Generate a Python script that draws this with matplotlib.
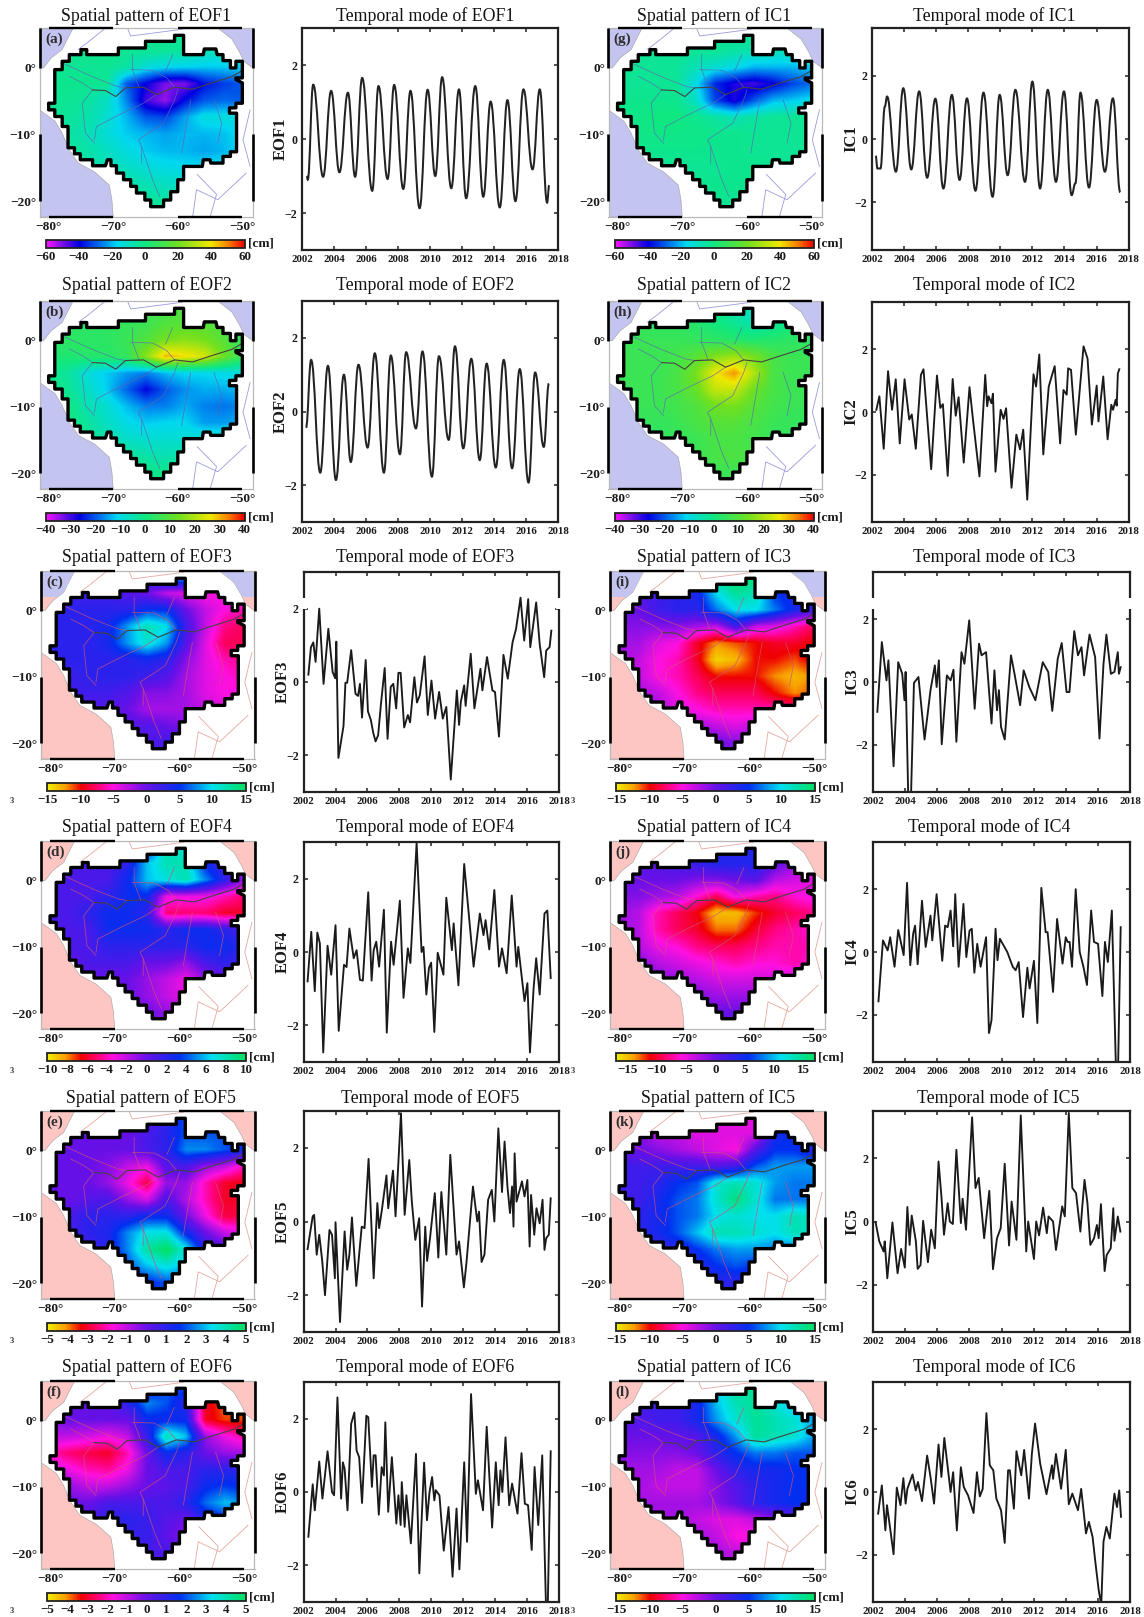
import numpy as np
import matplotlib
matplotlib.use('Agg')
import matplotlib.pyplot as plt
from matplotlib.colors import LinearSegmentedColormap, Normalize
from matplotlib.patches import Polygon, PathPatch, Rectangle
from matplotlib.path import Path
from matplotlib.cm import ScalarMappable

plt.rcParams['font.family'] = ['Liberation Serif', 'DejaVu Serif']
W, H = 1144, 1617

# ---------- grid of the spatial patterns ----------
LONS = [-80, -77, -74, -71, -68, -65, -62, -59, -56, -53, -50]
LATS = [5, 2.5, 0, -2.5, -5, -7.5, -10, -12.5, -15, -17.5, -20]

M_EOF1 = [[-2,-2,-2,-2,-2,-2,-3,-3,-3,-3,-3],
          [-2,-2,-2,-2,-3,-3,-3,-5,-8,-8,-8],
          [-3,-3,-3,-3,-5,-13,-16,-17,-18,-18,-17],
          [-2,-2,-2,-3,-30,-40,-50,-50,-38,-33,-30],
          [-3,-3,-5,-10,-25,-45,-52,-38,-30,-28,-30],
          [-3,-4,-6,-12,-20,-30,-32,-22,-14,-14,-14],
          [-3,-5,-8,-13,-18,-20,-22,-20,-20,-19,-15],
          [-3,-4,-6,-10,-14,-18,-20,-20,-22,-20,-16],
          [-2,-3,-5,-8,-10,-13,-15,-16,-16,-15,-12],
          [-2,-3,-4,-5,-6,-8,-10,-10,-8,-6,-5],
          [-2,-2,-2,-3,-3,-4,-5,-5,-4,-3,-3]]
M_EOF2 = [[5,5,5,5,6,7,8,9,8,6,4],
          [4,4,4,4,5,6,9,10,10,8,5],
          [4,4,4,4,6,9,14,16,14,10,5],
          [2,2,3,3,5,16,30,27,24,13,5],
          [-1,-3,-9,-12,-15,-17,-13,-11,-11,-10,-9],
          [0,-2,-7,-12,-19,-26,-20,-16,-14,-14,-13],
          [0,0,-5,-8,-13,-17,-17,-14,-17,-18,-16],
          [0,0,-3,-7,-10,-12,-11,-11,-15,-15,-14],
          [0,0,-1,-4,-7,-8,-8,-8,-7,-7,-6],
          [0,0,0,-1,-2,-4,-5,-4,-3,-2,-2],
          [0,0,0,0,0,-1,-1,-1,-1,0,0]]
M_EOF3 = [[2,2,2,2,2,3,8,10,3,-3,-5],
          [2,2,2,2,1,0,-3,-4,-5,-5,-5],
          [3,3,3,3,3,5,5,0,-3,-5,-6],
          [3,3,3,4,8,12,10,2,-3,-7,-8],
          [3,3,3,4,8,11,8,1,-4,-8,-8],
          [3,3,3,3,3,4,3,-1,-4,-6,-7],
          [2,2,3,3,3,2,1,-2,-4,-5,-6],
          [1,2,2,2,1,-1,-1,-2,-4,-5,-5],
          [1,1,1,1,0,-2,-2,-2,-3,-4,-4],
          [1,1,1,1,1,1,0,-1,-1,-1,-1],
          [1,1,1,1,1,1,2,2,1,1,1]]
M_EOF4 = [[1,1,1,1,1,2,8,7,3,-1,-1],
          [1,1,1,1,2,6,8,8,3,1,-1],
          [1,1,1,1,3,6,7,8,5,2,-1],
          [1,1,1,2,3,3,-3,-3,-3,-4,-5],
          [1,1,2,3,3,2,-5,-5,-5,-6,-6],
          [1,1,1,3,3,3,2,3,3,2,1],
          [1,1,1,2,2,2,2,2,3,3,2],
          [0,0,1,1,1,0,0,-1,1,2,1],
          [0,0,0,0,0,-1,-2,-3,-1,0,0],
          [0,0,0,0,0,-1,-2,-3,-1,0,0],
          [0,0,0,0,0,0,-1,-1,0,0,0]]
M_EOF5 = [[0,0,0,0,0,0,1,2,2,1,1],
          [0,0,0,0,0,0.5,1,2,2,2,1.5],
          [0,0,0,0,0,0.5,1,2.5,2.5,2,1.5],
          [0,0,0,-0.3,-1,-1.5,0.3,0.5,-0.5,-1,-2],
          [0,0,0,-0.5,-1.5,-2.8,-0.5,-0.5,-2,-3,-3.2],
          [0,0,0.3,0.5,-0.5,-1.2,0.5,-0.8,-2,-3,-3],
          [0.5,0.5,1,1,1,1.5,1.5,0,-1.5,-2.8,-2.8],
          [0.5,0.5,1,1.2,2.5,3.5,3.5,1.5,0,-1,-1.5],
          [0.5,0.5,0.5,1.2,2.5,4.2,5,3.5,1,0.5,0],
          [0.5,0.5,0.5,0.5,2,3,3.5,3,1,0.5,0.5],
          [0.5,0.5,0.5,0.5,1,1.5,2,2,1,0.5,0.5]]
M_EOF6 = [[0,0,0,0,0,1,2,2,-2,-3,-3],
          [0,0,0,0,1,2.5,2,1,-3,-3.8,-3.6],
          [-0.2,0,0,0,0,1.5,1.5,1.5,-3,-3.6,-3.6],
          [-1,-1,-1.2,-1.5,-1,0.8,4,3,-0.5,-1.5,-2.2],
          [-2,-2.5,-2.8,-3,-2,0,1.5,1,0,-0.5,-0.7],
          [-1,-1.5,-2,-2.2,-1.5,0,0.5,0.5,1,1,1],
          [-0.5,-0.5,-1,-1,-0.5,0,0.2,0.5,1.5,1.8,1.5],
          [0,0,0,0.5,0.5,0.5,0.5,1,2.2,3,2.5],
          [0,0,0.5,1,1,0.8,0.3,0,1,1.5,1],
          [0,0,0.5,0.5,0.8,0.8,0.2,-0.5,0,0,0],
          [0,0,0,0,0.5,0.5,0.5,0.5,0,0,0]]
M_IC1 = [[-3,-3,-3,-3,-3,-3,-3,-3,-3,-3,-3],
         [-3,-3,-3,-3,-3,-3,-5,-7,-8,-8,-8],
         [-3,-3,-3,-4,-8,-12,-15,-20,-20,-20,-18],
         [-3,-3,-3,-3,-15,-35,-42,-45,-40,-32,-28],
         [-2,-2,-2,-2,-10,-32,-42,-30,-20,-18,-15],
         [-2,-1,0,0,-2,-5,-8,-5,-3,-3,-3],
         [-2,-1,-1,-1,-1,-2,-2,-3,-3,-3,-3],
         [-2,-2,-2,-2,-2,-2,-2,-3,-3,-3,-3],
         [-3,-3,-3,-3,-3,-3,-2,-2,-3,-3,-3],
         [-3,-3,-3,-3,-3,-2,-2,-2,-3,-3,-3],
         [-3,-3,-3,-3,-3,-3,-3,-3,-3,-3,-3]]
M_IC2 = [[3,3,3,3,3,0,-5,-8,-4,2,3],
         [4,4,4,4,3,0,-2,-5,-3,1,3],
         [6,6,6,6,5,4,3,2,3,4,4],
         [6,6,6,7,10,15,18,14,8,6,6],
         [6,6,6,8,14,26,32,20,8,6,6],
         [6,6,6,8,12,22,22,13,8,6,6],
         [6,6,6,7,9,13,14,10,7,6,6],
         [5,5,5,6,8,10,10,8,6,5,5],
         [4,4,4,5,6,8,8,7,5,4,4],
         [5,5,5,5,6,8,9,7,5,5,5],
         [5,5,5,5,5,6,6,6,5,5,5]]
M_IC3 = [[3,3,3,3,3,14,15,14,3,3,3],
         [1,1,2,3,4,10,13,12,5,4,3],
         [0,0,2,3,3,7,10,10,7,4,2],
         [-1,-1,-1,-1,-2,-3,2,-3,-4,-6,-8],
         [-2,-2,-4,-5,-9,-12,-11,-10,-9,-9,-10],
         [-2,-3,-5,-6,-9,-14,-13,-10,-10,-11,-9],
         [-2,-3,-5,-6,-8,-10,-10,-10,-12,-13,-12],
         [0,-2,-3,-5,-7,-8,-8,-8,-10,-12,-11],
         [0,0,-2,-4,-5,-6,-6,-6,-6,-6,-6],
         [0,0,0,-1,-2,-3,-4,-3,-2,-1,-1],
         [1,1,1,1,1,0,-1,-1,0,0,0]]
M_IC4 = [[2,2,2,2,2,3,3,4,1,0,-1],
         [1,1,1,2,3,4,4,4,1,-2,-3],
         [0,0,0,0,-1,-1,0,1,-3,-4,-5],
         [-1,-1,-2,-3,-6,-9,-5,-7,-8,-6,-5],
         [-2,-3,-7,-9,-11,-15,-15,-12,-10,-9,-8],
         [-2,-3,-7,-9,-10,-13,-13,-10,-8,-7,-6],
         [-1,-3,-5,-6,-8,-9,-9,-8,-7,-7,-7],
         [0,-1,-3,-4,-5,-6,-7,-6,-6,-7,-6],
         [0,0,-1,-2,-3,-4,-4,-4,-4,-4,-4],
         [1,1,0,0,-1,-2,-2,-2,-2,-1,-1],
         [1,1,1,1,1,0,0,0,0,0,0]]
M_IC5 = [[-1,-1,-2,-3,-4,-4,-4,-4,4,5,5],
         [-1,-1,-3,-3,-4,-4,-4,-4,4,5,5],
         [0,0,-1,-2,-3,-4,-5,1,5,5,3],
         [2,2,2,2,2,1,2,6,8,8,8],
         [2,2,3,5,6,11,12,11,8,7,7],
         [2,2,4,6,7,11,14,11,7,7,7],
         [1,3,4,6,7,10,11,10,10,12,11],
         [1,3,4,6,9,12,12,11,10,12,11],
         [1,2,2,3,5,7,8,8,7,7,6],
         [1,2,2,2,3,5,6,5,4,3,3],
         [2,2,2,2,2,3,3,3,2,2,2]]
M_IC6 = [[2,2,2,2,3,9,13,13,8,5,4],
         [2,2,2,2,4,9,12,13,11,8,6],
         [1,1,2,2,4,8,11,13,12,11,8],
         [0,0,0,0.5,1,4,8,13,12,11,8],
         [-1,-1,-1,-1,0,3,5,7,7,6,6],
         [-2,-2,-2,-3,-3,0,3,4,4,5,5],
         [-2,-2,-3,-3,-3,-1,1,3,4,5,5],
         [-1,-2,-2,-2,-2,-1,0.5,3,4,5,4],
         [-1,-1,-2,-2,-3,-4,-4,-3,-1,0,0],
         [0,0,-1,-1,-2,-3,-5,-5,-1,0,0],
         [0,0,0,0,-1,-2,-3,-3,-1,0,0]]

# ---------- basin outline, coast, rivers (lon, lat) ----------
BASIN = [(-60.5,4.9),(-59.1,4.9),(-59.1,2),(-56.05,2),(-55.9,2.85),(-54.1,2.85),(-53.9,2),(-53,2),(-53,1.1),
         (-51.85,1.1),(-51.85,0),(-51,0),(-51,1),(-50,1),(-50,-1.5),(-51,-1.5),(-51,-1.75),(-50,-2.25),(-50,-5.3),
         (-51,-5.3),(-51,-6),(-52,-6),(-52,-6.8),(-50.9,-6.8),(-50.9,-12.6),(-51.85,-12.6),(-51.85,-13.3),(-53,-13.3),
         (-53,-14.3),(-54.9,-14.3),(-55,-13.8),(-56.05,-13.8),(-56.2,-14.8),(-59.1,-14.8),(-59.1,-16.8),(-60,-16.8),
         (-60,-18.6),(-61.1,-18.6),(-61.1,-19.85),(-62.2,-19.85),(-62.2,-20.85),(-64.2,-20.85),(-64.2,-19.85),
         (-65.1,-19.85),(-65.1,-18.8),(-66.4,-18.8),(-66.4,-17.8),(-67.3,-17.8),(-67.3,-16.8),(-68.4,-16.8),
         (-68.4,-15.8),(-69.5,-15.8),(-69.5,-14.7),(-70.35,-14.7),(-70.35,-13.8),(-70.9,-13.8),(-71.2,-14.7),
         (-73.2,-14.7),(-73.2,-13.8),(-75.1,-13.8),(-75.1,-12.9),(-76,-12.9),(-76,-12),(-77,-12),(-77,-8.8),
         (-77.9,-8.8),(-77.9,-7.3),(-79.05,-7.3),(-79.05,-6.3),(-80,-6.3),(-80,-5.3),(-79.05,-5.3),(-79.05,-0.25),
         (-77.9,-0.25),(-77.9,1),(-76.8,1),(-76.8,2),(-75,2),(-75,2.75),(-74.1,2.75),(-74.1,2),(-69.2,2),(-69.2,3),
         (-65,3),(-65,4),(-60.5,4)]
OCEAN_S = [(-81.4,-6.3),(-79,-8),(-77.9,-9.8),(-76.8,-12.3),(-75.4,-14.3),(-72.9,-15.6),(-70.6,-17.6),(-70.2,-19.8),(-70,-22.4),(-81.4,-22.4)]
OCEAN_NW = [(-81.4,6),(-76.2,6),(-77.1,4.3),(-77.9,2.75),(-79.6,1.5),(-80.8,0),(-81.4,0)]
OCEAN_NE = [(-53.8,6),(-51.6,4.3),(-50.4,2.3),(-49.8,1),(-48.4,0),(-48.4,6)]
AMAZON = [(-73.2,-3.3),(-71.2,-3.4),(-69.6,-4.3),(-68.1,-3),(-65.3,-2.9),(-63.3,-4),(-60.5,-2.9),(-57.7,-3.2),(-54.9,-2.3),(-51.6,-1.3),(-50.2,-0.5)]
RIVERS_IN = [[(-67.3,-0.25),(-63.9,-0.35),(-61.7,-1.5),(-60.5,-2.9)],
             [(-60.8,2),(-61.9,-0.5)],
             [(-77.9,0.75),(-73.4,-1.25),(-69.5,-2.75),(-68.1,-3)],
             [(-72.9,-10.8),(-72.6,-8.8),(-69,-7),(-65.3,-5.3),(-63.3,-4)],
             [(-65.6,-14.3),(-65.6,-11.8),(-66.1,-10.8),(-62.2,-8.3),(-60.5,-4.8),(-60,-3.3)],
             [(-65.6,-11.8),(-63.9,-16.8),(-62.8,-19.3)],
             [(-58,-4.8),(-58.9,-9.8),(-59.4,-12.8)],
             [(-54.4,-4.8),(-53.2,-8.3),(-53.8,-11.3)],
             [(-76.8,-1.25),(-74.8,-2.25),(-73.2,-3.3)],
             [(-73.2,-3.3),(-74.8,-5.3),(-74.3,-9.8),(-72.9,-11.3)],
             [(-67,2),(-67,-0.25),(-66,-2.9)]]
RIVERS_OUT = [[(-57.7,-22.4),(-57.1,-18.3),(-53.8,-19.8),(-51.6,-17.8),(-49.4,-15.8)],
              [(-67.8,6),(-67.3,4.8),(-63.3,5.3),(-59.4,5.8)],
              [(-71.2,6),(-74,3.8),(-75.4,2.8)],
              [(-48.8,-6.3),(-49.9,-10.8),(-48.8,-14.8)],
              [(-55,-22.4),(-54,-19),(-57,-16)]]

# ---------- temporal modes: (years after 2000, value) ----------
EOF1 = [(2.3,-1.0),(2.36,-1.1),(2.7,1.47),(3.32,-1.02),(3.82,1.3),(4.34,-0.9),(4.87,1.25),(5.32,-1.02),(5.76,1.65),(6.39,-1.4),(6.78,1.43),(7.35,-1.08),(7.76,1.46),(8.33,-1.35),(8.78,1.3),(9.35,-1.87),(9.85,1.33),(10.33,-1.0),(10.76,1.67),(11.33,-1.33),(11.81,1.34),(12.26,-1.6),(12.83,1.43),(13.33,-1.56),(13.79,1.01),(14.36,-1.85),(14.84,1.05),(15.34,-1.68),(15.84,1.34),(16.41,-0.82),(16.86,1.34),(17.32,-1.72),(17.45,-1.25)]
EOF2 = [(2.25,-0.44),(2.57,1.4),(3.14,-1.66),(3.62,1.24),(4.12,-1.86),(4.62,1.0),(5.05,-1.37),(5.53,1.27),(6.1,-0.98),(6.55,1.58),(7.12,-1.66),(7.55,1.52),(8.12,-1.16),(8.51,1.61),(9.12,-0.46),(9.53,1.63),(10.12,-1.77),(10.56,1.5),(11.17,-0.77),(11.56,1.77),(12.08,-1.0),(12.58,1.43),(13.11,-1.32),(13.54,1.3),(14.11,-1.52),(14.61,1.4),(15.13,-1.54),(15.61,1.15),(16.16,-1.93),(16.57,1.06),(17.11,-0.96),(17.43,0.76)]
EOF3 = [(2.30,0.2),(2.46,0.95),(2.61,1.08),(2.75,0.55),(2.98,2.0),(3.25,-0.05),(3.55,1.45),(3.82,0.27),(3.98,0.1),(4.05,1.1),(4.18,-2.07),(4.50,-1.2),(4.62,-0.02),(4.73,-0.02),(4.98,0.87),(5.25,-0.32),(5.41,-0.38),(5.53,-0.05),(5.66,-0.97),(5.89,0.6),(6.03,-0.8),(6.21,-1.03),(6.37,-1.4),(6.51,-1.62),(6.67,-1.45),(6.85,-0.58),(7.08,0.38),(7.26,-1.55),(7.46,-0.13),(7.62,-0.05),(7.80,-0.72),(7.94,0.25),(8.08,0.25),(8.30,-1.24),(8.53,-0.9),(8.67,-1.1),(8.94,0.13),(9.10,-0.56),(9.28,-0.36),(9.58,0.7),(9.78,-0.9),(10.01,0.04),(10.24,-1.0),(10.49,-0.27),(10.72,-1.0),(10.94,-0.68),(11.22,-2.66),(11.60,-0.23),(11.74,-1.17),(11.85,-0.54),(12.06,-0.09),(12.15,-0.65),(12.47,0.77),(12.70,-0.72),(13.08,0.36),(13.20,-0.23),(13.49,0.68),(13.83,-0.23),(13.99,-0.27),(14.24,-1.49),(14.52,0.74),(14.79,0.09),(15.09,1.08),(15.31,1.45),(15.59,2.3),(15.82,1.13),(16.07,2.26),(16.20,0.95),(16.57,2.17),(16.79,1.04),(17.07,0.13),(17.20,0.86),(17.41,0.95),(17.52,1.4)]
EOF4 = [(2.25,-0.8),(2.48,0.55),(2.7,-1.07),(2.86,0.53),(3.02,0.23),(3.23,-2.74),(3.5,0.17),(3.73,-0.62),(4.0,0.73),(4.2,-2.15),(4.53,-0.35),(4.69,-0.41),(4.87,0.64),(5.14,-0.17),(5.32,0.05),(5.53,-0.76),(5.71,-0.78),(6.05,1.63),(6.26,-0.78),(6.39,0.05),(6.55,0.28),(6.73,-0.4),(7.03,1.15),(7.21,-2.2),(7.48,0.28),(7.64,-0.35),(8.03,1.4),(8.26,-1.25),(8.53,0.1),(8.69,-0.3),(9.08,2.98),(9.39,0.0),(9.51,0.14),(9.69,-1.16),(9.85,-0.44),(9.99,-0.29),(10.19,-2.18),(10.4,-0.02),(10.76,-0.62),(10.94,1.48),(11.29,0.05),(11.4,0.78),(11.7,-0.91),(12.06,2.4),(12.65,-0.4),(13.04,1.05),(13.27,0.46),(13.4,0.87),(13.63,0.07),(13.95,1.69),(14.24,-0.4),(14.43,0.1),(14.72,-0.58),(15.04,1.54),(15.34,-0.4),(15.45,0.14),(15.84,-1.34),(16.02,-0.85),(16.18,-2.74),(16.41,-0.98),(16.57,-0.17),(16.79,-1.16),(17.09,1.05),(17.27,1.13),(17.48,-0.71)]
EOF5 = [(2.25,-0.75),(2.57,0.14),(2.66,0.18),(2.82,-0.9),(2.98,-0.36),(3.16,-1.04),(3.34,-2.0),(3.62,-0.23),(3.78,-0.36),(3.96,-1.54),(4.0,-0.02),(4.28,-2.73),(4.57,-0.27),(4.73,-1.31),(4.87,-0.9),(5.03,0.11),(5.3,-1.75),(5.64,-0.14),(5.82,-0.18),(6.07,1.7),(6.39,-1.54),(6.62,0.5),(6.73,-0.18),(6.89,0.27),(7.19,1.25),(7.3,0.36),(7.6,1.38),(7.76,0.14),(8.1,2.94),(8.33,0.18),(8.62,1.67),(8.78,0.54),(9.0,-0.5),(9.24,0.09),(9.42,-2.31),(9.62,-0.14),(9.74,-1.07),(9.92,-0.45),(10.22,0.77),(10.44,-0.98),(10.63,0.8),(10.94,-0.9),(11.19,1.81),(11.58,-0.9),(11.74,-0.54),(12.04,-1.79),(12.2,-1.13),(12.61,0.95),(12.88,0.0),(12.99,0.27),(13.15,-1.1),(13.33,-0.9),(13.56,0.59),(13.79,0.86),(13.95,0.0),(14.2,2.53),(14.43,0.8),(14.59,2.17),(14.77,0.95),(14.93,0.23),(15.06,0.95),(15.15,-0.14),(15.22,1.85),(15.34,0.54),(15.68,1.09),(15.84,0.68),(16.02,1.13),(16.16,-0.68),(16.25,0.72),(16.45,-0.36),(16.59,0.36),(16.79,-0.05),(16.97,0.59),(17.09,-0.77),(17.2,-0.45),(17.36,-0.36),(17.48,0.63)]
EOF6 = [(2.3,-1.22),(2.57,0.21),(2.7,-0.5),(2.98,0.83),(3.18,-0.18),(3.5,1.11),(3.78,0.0),(3.91,-0.09),(4.12,2.58),(4.35,-0.18),(4.46,0.81),(4.57,0.63),(4.75,-0.5),(4.98,1.86),(5.18,2.17),(5.32,1.13),(5.48,0.95),(5.66,-0.3),(5.93,2.08),(6.05,2.04),(6.28,0.14),(6.39,1.0),(6.51,1.0),(6.71,-0.62),(6.89,0.68),(7.03,0.45),(7.12,1.9),(7.3,-0.54),(7.53,0.95),(7.81,-0.86),(7.94,-0.09),(8.08,-0.9),(8.15,0.27),(8.33,-0.95),(8.44,-0.09),(8.72,-1.4),(9.04,1.04),(9.25,-2.22),(9.55,0.8),(9.73,-0.77),(9.89,0.0),(10.05,0.41),(10.19,-0.23),(10.28,0.05),(10.51,-0.09),(10.78,-1.6),(11.08,-0.41),(11.33,-2.31),(11.58,-0.45),(11.76,-2.11),(12.06,0.81),(12.24,-1.36),(12.49,2.67),(12.79,-0.05),(12.92,0.32),(13.24,-0.5),(13.47,1.78),(13.81,-0.97),(14.04,0.81),(14.22,-0.36),(14.33,0.59),(14.45,0.0),(14.65,1.49),(14.88,-0.36),(15.06,0.23),(15.4,-0.59),(15.65,1.06),(15.86,-0.32),(16.06,-0.36),(16.29,-1.58),(16.47,0.68),(16.7,-0.9),(16.95,1.0),(17.18,-3.03),(17.3,-3.03),(17.48,1.11)]
IC1 = [(2.23,-0.53),(2.34,-0.93),(2.53,-0.93),(2.8,1.02),(2.94,1.34),(3.49,-1.03),(3.95,1.6),(4.45,-0.96),(4.94,1.5),(5.44,-1.22),(5.95,1.27),(6.45,-1.56),(6.98,1.39),(7.46,-1.29),(7.92,1.28),(8.45,-1.63),(8.95,1.46),(9.52,-1.82),(9.96,1.39),(10.46,-1.14),(10.94,1.55),(11.54,-1.35),(12.0,1.81),(12.48,-1.56),(12.96,1.55),(13.47,-1.35),(13.97,1.5),(14.45,-1.77),(14.68,-1.4),(15.0,1.46),(15.53,-1.53),(16.01,1.23),(16.52,-1.03),(17.02,1.28),(17.48,-1.68)]
IC2 = [(2.27,0.07),(2.46,0.5),(2.73,-1.17),(3.0,1.3),(3.25,0.07),(3.48,1.04),(3.73,-1.0),(4.03,1.04),(4.32,-0.24),(4.48,-0.08),(4.73,-1.17),(5.05,1.18),(5.21,1.36),(5.69,-1.82),(6.05,1.16),(6.26,0.13),(6.42,0.25),(6.72,-2.03),(7.03,1.05),(7.22,-0.12),(7.4,0.47),(7.72,-1.61),(8.08,0.79),(8.31,-0.3),(8.7,-2.05),(9.06,1.18),(9.18,0.18),(9.27,0.5),(9.45,0.28),(9.54,0.58),(9.7,-1.9),(10.02,0.07),(10.2,-0.22),(10.36,0.12),(10.7,-2.41),(11.0,-0.72),(11.23,-1.19),(11.43,-0.56),(11.68,-2.79),(12.07,1.2),(12.23,0.81),(12.43,1.83),(12.68,-1.35),(13.02,0.81),(13.39,1.46),(13.73,-1.0),(13.94,0.7),(14.14,0.55),(14.23,1.39),(14.41,1.34),(14.71,-0.72),(15.19,2.09),(15.44,1.7),(15.71,-0.4),(16.01,0.84),(16.12,-0.3),(16.42,1.13),(16.69,-0.87),(16.92,0.23),(17.03,0.07),(17.19,0.39),(17.26,0.2),(17.33,1.23),(17.42,1.36)]
IC3 = [(2.27,-0.95),(2.55,1.27),(2.84,0.05),(2.96,0.69),(3.28,-2.68),(3.57,0.63),(3.82,0.26),(3.96,-0.58),(4.03,0.32),(4.19,-3.55),(4.37,-3.55),(4.55,-0.03),(4.83,0.16),(5.21,-1.83),(5.58,-0.26),(5.85,0.53),(5.96,-0.16),(6.1,0.69),(6.28,-1.98),(6.6,0.21),(6.83,0.05),(7.01,0.39),(7.19,-1.9),(7.51,0.95),(7.69,0.58),(7.99,1.96),(8.33,-0.85),(8.6,1.22),(8.76,0.85),(9.04,0.95),(9.38,-1.32),(9.56,0.37),(9.72,-0.9),(9.84,-0.26),(9.97,-1.43),(10.2,-1.83),(10.59,0.85),(10.81,0.26),(11.16,-0.74),(11.38,0.37),(11.73,-0.16),(12.11,-0.58),(12.57,0.63),(12.91,0.32),(13.16,-0.92),(13.5,0.74),(13.75,1.24),(14.05,-0.32),(14.23,-0.32),(14.53,1.62),(14.76,0.85),(14.98,1.11),(15.14,0.21),(15.48,1.51),(15.83,0.79),(16.1,-1.8),(16.35,0.58),(16.53,1.51),(16.81,0.26),(17.03,0.32),(17.24,0.95),(17.31,0.26),(17.42,0.47)]
IC4 = [(2.34,-1.57),(2.62,0.37),(2.91,0.05),(3.07,0.47),(3.34,-0.47),(3.57,0.7),(3.91,-0.1),(4.12,2.2),(4.32,-0.42),(4.5,0.58),(4.62,0.84),(4.78,-0.39),(5.05,1.63),(5.28,0.16),(5.58,1.16),(5.69,0.37),(5.96,1.84),(6.31,-0.28),(6.49,0.84),(6.65,0.79),(6.83,1.32),(6.99,0.18),(7.12,1.84),(7.33,-0.47),(7.63,1.53),(7.81,-0.16),(8.01,0.68),(8.15,0.74),(8.31,-0.66),(8.49,0.26),(8.7,-0.47),(9.04,0.47),(9.22,-2.58),(9.38,-2.16),(9.63,0.74),(9.75,-0.26),(9.9,0.42),(10.36,0.0),(10.7,-0.47),(10.88,-0.58),(11.07,-0.32),(11.34,-2.07),(11.61,-0.5),(11.75,-1.16),(12.02,-0.28),(12.23,-2.26),(12.48,2.04),(12.75,0.63),(12.87,0.63),(13.21,-1.27),(13.46,1.05),(13.8,-0.37),(14.0,0.47),(14.12,0.32),(14.24,0.32),(14.39,-0.47),(14.62,2.0),(14.87,0.0),(15.1,-0.47),(15.32,-1.05),(15.58,1.32),(15.76,0.32),(16.01,0.26),(16.28,-1.4),(16.44,0.32),(16.62,-0.32),(16.87,1.32),(17.12,-3.6),(17.26,-3.6),(17.42,0.79)]
IC5 = [(2.16,-0.02),(2.39,-0.63),(2.66,-0.95),(2.73,-0.63),(2.89,-1.8),(3.21,-0.03),(3.53,-1.64),(3.75,-0.87),(3.98,-1.46),(4.14,0.46),(4.28,-0.74),(4.41,0.19),(4.67,-0.63),(4.78,-1.5),(4.96,-1.38),(5.12,0.02),(5.42,-1.29),(5.62,-0.26),(5.85,-0.85),(6.08,1.9),(6.26,0.79),(6.42,-0.42),(6.65,0.58),(6.78,0.0),(6.97,-0.08),(7.19,2.27),(7.47,-0.05),(7.58,0.72),(7.79,-0.26),(8.17,3.3),(8.38,1.06),(8.58,1.38),(8.92,-0.53),(9.24,0.97),(9.47,-1.51),(9.72,-0.53),(9.95,-0.21),(10.2,1.83),(10.47,-0.76),(10.63,0.63),(10.93,-0.58),(11.2,3.36),(11.54,-0.95),(11.66,0.0),(12.02,-1.19),(12.16,0.0),(12.34,-0.44),(12.59,0.44),(12.82,-0.37),(12.93,0.16),(13.21,0.0),(13.39,-0.9),(13.78,0.48),(13.94,0.16),(14.19,3.44),(14.41,1.06),(14.64,0.9),(14.91,-0.32),(15.03,0.48),(15.17,1.32),(15.35,0.58),(15.53,-0.74),(15.76,-0.53),(15.94,-0.11),(16.05,-0.53),(16.19,0.55),(16.42,-1.57),(16.55,-1.06),(16.8,-0.85),(16.96,0.42),(17.03,-0.61),(17.24,0.16),(17.4,-0.32)]
IC6 = [(2.32,-0.69),(2.55,0.21),(2.77,-1.22),(2.87,-0.42),(3.0,-0.9),(3.28,-1.98),(3.48,0.14),(3.71,-0.42),(3.89,0.44),(4.03,-0.37),(4.14,0.1),(4.46,0.56),(4.66,0.05),(4.8,0.32),(5.05,-0.29),(5.37,1.16),(5.58,0.48),(5.8,-0.37),(6.08,1.51),(6.26,0.48),(6.44,1.72),(6.83,0.0),(6.99,0.63),(7.22,-1.22),(7.47,0.79),(7.65,0.16),(7.92,-0.11),(8.26,-0.67),(8.47,0.63),(8.65,-0.14),(8.83,0.1),(9.06,2.51),(9.27,0.85),(9.49,0.69),(9.68,-0.21),(9.97,-0.58),(10.2,-1.62),(10.41,0.69),(10.52,0.69),(10.77,-0.53),(10.93,1.3),(11.23,0.53),(11.41,1.34),(11.71,-0.21),(11.89,1.21),(12.09,2.18),(12.41,0.9),(12.8,-0.07),(13.14,0.85),(13.21,0.42),(13.39,1.21),(13.71,0.1),(14.0,1.34),(14.19,-0.39),(14.41,-0.05),(14.76,-0.58),(14.96,0.1),(15.26,-1.32),(15.44,-0.95),(15.67,-1.43),(15.83,-2.17),(16.05,-3.12),(16.21,-3.6),(16.35,-1.58),(16.53,-1.11),(16.74,-1.48),(17.03,-0.05),(17.19,-0.48),(17.33,0.05),(17.44,-0.79)]

# ---------- panel definitions ----------
RAINBOW = LinearSegmentedColormap.from_list('rb', [(0,'#ff10ff'),(.08,'#8010e8'),(.17,'#0000e0'),(.30,'#0090f0'),(.36,'#00d8f0'),(.5,'#10e880'),(.67,'#70e020'),(.83,'#f0e800'),(.92,'#f88000'),(1,'#f00000')])
REVERSE = LinearSegmentedColormap.from_list('rv', [(0,'#f0f000'),(.09,'#f8a000'),(.17,'#f00000'),(.25,'#ff0070'),(.33,'#ff10e0'),(.5,'#6810e8'),(.67,'#0030f0'),(.83,'#00e0f0'),(1,'#00e060')])
BLUE_SEA, PINK_SEA = '#c4c4f0', '#fdc6c2'
BLUE_RIV, PINK_RIV = '#9a9ae0', '#e8a8a0'

def ticks(a, b, s):
    return list(range(a, b + 1, s))

MAPS = [
 ('EOF1','(a)',M_EOF1,60,ticks(-60,60,20),RAINBOW,'b',(39.6,252.7,28,217),146.5,10),
 ('EOF2','(b)',M_EOF2,40,ticks(-40,40,10),RAINBOW,'b',(39.6,252.7,301,489),146.5,10),
 ('EOF3','(c)',M_EOF3,15,ticks(-15,15,5),REVERSE,'m',(41,254.5,571,759),146.5,10),
 ('EOF4','(d)',M_EOF4,10,ticks(-10,10,2),REVERSE,'p',(41,254.5,841,1029),146.5,10),
 ('EOF5','(e)',M_EOF5,5,ticks(-5,5,1),REVERSE,'p',(41,254.5,1111,1299),151,10),
 ('EOF6','(f)',M_EOF6,5,ticks(-5,5,1),REVERSE,'p',(41,254.5,1381,1569),146.5,10),
 ('IC1','(g)',M_IC1,60,ticks(-60,60,20),RAINBOW,'b',(608.5,822,28,217),713.6,None),
 ('IC2','(h)',M_IC2,40,ticks(-40,40,10),RAINBOW,'b',(608.5,822,301,489),713.6,None),
 ('IC3','(i)',M_IC3,15,ticks(-15,15,5),REVERSE,'m',(610,824.6,571,759),713.6,571),
 ('IC4','(j)',M_IC4,17,ticks(-15,15,5),REVERSE,'p',(610,824.6,841,1029),713.6,571),
 ('IC5','(k)',M_IC5,15,ticks(-15,15,5),REVERSE,'p',(610,824.6,1111,1299),717.6,571),
 ('IC6','(l)',M_IC6,15,ticks(-15,15,5),REVERSE,'p',(610,824.6,1381,1569),713.6,571),
]
SERIES = [
 ('EOF1',EOF1,3,True,(302,558,28,250),425,16),
 ('EOF2',EOF2,3,True,(302,558,301,522),425,285),
 ('EOF3',EOF3,3,False,(303.6,559,572,792),425,557),
 ('EOF4',EOF4,3,False,(303.6,559,842,1062),425,827),
 ('EOF5',EOF5,3,False,(303.6,559,1111,1332),430,1098),
 ('EOF6',EOF6,3,False,(303.6,559,1382,1602),425,1367),
 ('IC1',IC1,3.5,True,(872,1128.6,28,250),994,16),
 ('IC2',IC2,3.5,False,(872,1128.6,302,522),994,285),
 ('IC3',IC3,3.5,False,(873,1130,572,792),994,557),
 ('IC4',IC4,3.5,False,(873,1130,842,1062),989,827),
 ('IC5',IC5,3.5,False,(873,1130,1111,1332),998.6,1098),
 ('IC6',IC6,3.5,False,(873,1130,1382,1602),994,1367),
]
TITLE_Y = {28:16, 301:285, 571:557, 841:827, 1111:1098, 1381:1367}

fig = plt.figure(figsize=(W/100, H/100), dpi=100, facecolor='white')

def box(x0, x1, y0, y1):
    return fig.add_axes([x0/W, 1-y1/H, (x1-x0)/W, (y1-y0)/H])

def fx(x): return x/W
def fy(y): return 1-y/H
def lab(v):
    return ('\u2212%d' % -v) if v < 0 else '%d' % v

XLIM, YLIM = (-81.4, -48.4), (-22.4, 6.0)
EXTENT = (-81.5, -48.5, -21.25, 6.25)

for name, letter, grid, vm, cbt, cmap, style, (x0, x1, y0, y1), tx, stray in MAPS:
    ax = box(x0, x1, y0, y1)
    ax.set_xlim(*XLIM); ax.set_ylim(*YLIM)
    blue = style == 'b'
    sea = BLUE_SEA if blue else PINK_SEA
    riv = BLUE_RIV if blue else PINK_RIV
    for poly in (OCEAN_S, OCEAN_NW, OCEAN_NE):
        ax.add_patch(Polygon(poly, closed=True, fc=sea, ec='#a0a0a0', lw=0.4, zorder=1))
    if style == 'm':
        clip = Rectangle((-82, 2.0), 35, 5, transform=ax.transData)
        for poly in (OCEAN_NW, OCEAN_NE):
            p = Polygon(poly, closed=True, fc=BLUE_SEA, ec='none', zorder=1.1)
            ax.add_patch(p); p.set_clip_path(clip)
    for r in RIVERS_OUT:
        ax.plot(*zip(*r), color=riv, lw=0.6, zorder=1.5)
    im = ax.imshow(np.array(grid, float), extent=EXTENT, cmap=cmap, norm=Normalize(-vm, vm),
                   interpolation='bilinear', aspect='auto', zorder=2)
    clip = Polygon(BASIN, closed=True, transform=ax.transData)
    im.set_clip_path(clip)
    ax.set_xlim(*XLIM); ax.set_ylim(*YLIM)
    incol = '#5a6ab0' if blue else '#d0507a'
    for r in RIVERS_IN:
        ax.plot(*zip(*r), color=incol, lw=0.55, alpha=.8, zorder=3)
    ax.plot(*zip(*AMAZON), color='#444444', lw=0.8, zorder=3.2)
    ax.add_patch(Polygon(BASIN, closed=True, fill=False, ec='black', lw=2.4, joinstyle='round', zorder=4))
    # frame
    for s in ax.spines.values():
        s.set_color('#b8b8b8'); s.set_linewidth(0.9)
    for lo, hi in ((-80, -70), (-60, -50)):
        for yy in YLIM:
            ax.plot([lo, hi], [yy, yy], color='black', lw=1.7, clip_on=False, solid_capstyle='butt', zorder=6)
    for lo, hi in ((0, 6), (-20, -10)):
        for xx in XLIM:
            ax.plot([xx, xx], [lo, hi], color='black', lw=1.9, clip_on=False, solid_capstyle='butt', zorder=6)
    ax.set_xticks([-80, -70, -60, -50])
    ax.set_xticklabels(['\u2212%d\u00b0' % -v for v in (-80, -70, -60, -50)], fontsize=9.6, fontweight='bold')
    ax.set_yticks([0, -10, -20])
    ax.set_yticklabels(['0\u00b0', '\u221210\u00b0', '\u221220\u00b0'], fontsize=9.6, fontweight='bold')
    ax.tick_params(length=0, pad=2.6, colors='#1a1a1a')
    ax.text(0.025, 0.94, letter, transform=ax.transAxes, fontsize=11, fontweight='bold', va='center', color='#303030', zorder=7)
    fig.text(fx(tx), fy(TITLE_Y[y0]), 'Spatial pattern of ' + name, ha='center', va='center', fontsize=12.8, color='#111111')
    # colour bar
    cax = box(x0+6, x0+205, y0+212, y0+220)
    cb = fig.colorbar(ScalarMappable(Normalize(-vm, vm), cmap), cax=cax, orientation='horizontal', ticks=cbt)
    cb.ax.set_xticklabels([lab(v) for v in cbt], fontsize=9.4, fontweight='bold')
    cb.ax.tick_params(length=0, pad=2, colors='#1a1a1a')
    cb.outline.set_linewidth(1.3); cb.outline.set_edgecolor('#222222')
    fig.text(fx(x0+208), fy(y0+216), '[cm]', fontsize=9.6, fontweight='bold', va='center', color='#1a1a1a')
    if y0 >= 571 and stray is not None:
        fig.text(fx(stray), fy(y0+230), '3', fontsize=6, fontweight='bold', va='center', color='#333333')

for name, pts, ym, smooth, (x0, x1, y0, y1), tx, ty in SERIES:
    ax = box(x0, x1, y0, y1)
    t = np.array([p[0] for p in pts]) + 2000
    v = np.array([p[1] for p in pts])
    if smooth:
        verts = [(t[0], v[0])]
        codes = [Path.MOVETO]
        for i in range(len(t)-1):
            d = (t[i+1]-t[i]) * 0.42
            verts += [(t[i]+d, v[i]), (t[i+1]-d, v[i+1]), (t[i+1], v[i+1])]
            codes += [Path.CURVE4]*3
        ax.add_patch(PathPatch(Path(verts, codes), fill=False, ec='#222222', lw=1.45))
    else:
        ax.plot(t, v, color='#1a1a1a', lw=1.35, solid_joinstyle='round')
    ax.set_xlim(2002, 2018); ax.set_ylim(-ym, ym)
    ax.set_xticks(range(2002, 2019, 2))
    ax.set_xticklabels([str(y) for y in range(2002, 2019, 2)], fontsize=7.8, fontweight='bold')
    ax.set_yticks([-2, 0, 2])
    ax.set_yticklabels(['\u22122', '0', '2'], fontsize=8.6, fontweight='bold')
    ax.tick_params(direction='in', length=2.8, width=1.1, top=True, right=True, pad=3.5, color='#222222', labelcolor='#1a1a1a')
    for s in ax.spines.values():
        s.set_linewidth(1.6); s.set_color('#222222')
    ax.set_ylabel(name, fontsize=12, fontweight='bold', color='#1a1a1a')
    ax.yaxis.set_label_coords(-13/(x1-x0), 0.5)
    fig.text(fx(tx), fy(ty), 'Temporal mode of ' + name, ha='center', va='center', fontsize=12.8, color='#111111')
    if name in ('EOF3', 'IC3'):
        for xa in (0, 1):
            ax.add_patch(Rectangle((xa-0.012, 0.83), 0.024, 0.05, transform=ax.transAxes, fc='white', ec='none', clip_on=False, zorder=8))

fig.savefig('out.png', dpi=100, facecolor='white')
